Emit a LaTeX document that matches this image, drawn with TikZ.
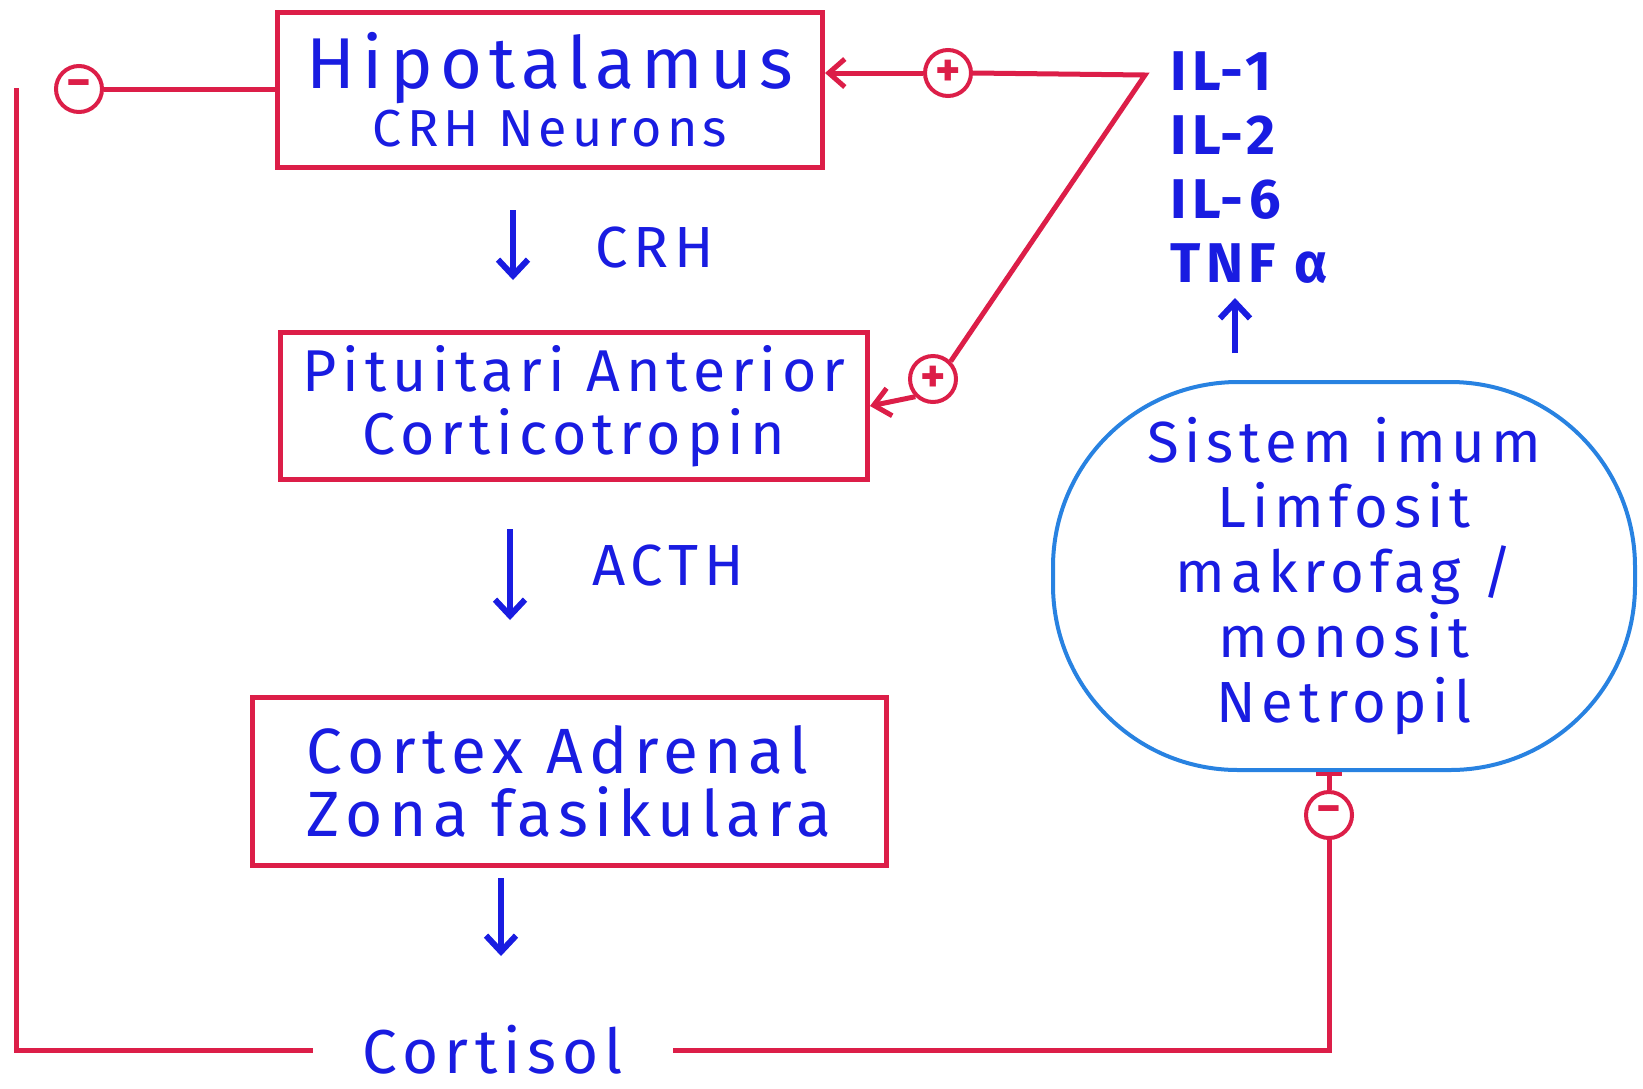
\documentclass[tikz,border=0pt]{standalone}
\usepackage{fontspec}
\setmainfont{Fira Sans}[LetterSpace=10]
\usetikzlibrary{arrows.meta}
\definecolor{inkred}{RGB}{220,30,72}
\definecolor{inkblue}{RGB}{25,28,225}
\definecolor{blobblue}{RGB}{40,130,225}
\newcommand{\handsize}[2]{\fontsize{#1}{#2}\selectfont}

\begin{document}
\begin{tikzpicture}[x=1pt, y=-1pt,
  organ/.style={draw=inkred, line width=5pt, text=inkblue, inner sep=0pt},
  redline/.style={draw=inkred, line width=5pt},
  redarrow/.style={redline, -{Straight Barb[length=16pt,width=28pt,line width=5pt]}},
  blueflow/.style={draw=inkblue, line width=6pt, -{Straight Barb[length=16pt,width=30pt,line width=6pt]}},
  sign/.style={circle, draw=inkred, line width=4pt, text=inkred, minimum size=46pt,
    inner sep=0pt, font=\bfseries\handsize{48}{48}},
  handtext/.style={text=inkblue, inner sep=0pt}]
  \useasboundingbox (0,0) rectangle (1643,1088);

  % Organ boxes
  \node[organ, minimum width=545pt, minimum height=155pt, align=center,
    font=\handsize{72}{58}] (hipo) at (550,90)
    {Hipotalamus\\{\handsize{52}{58}CRH Neurons}};
  \node[organ, minimum width=587pt, minimum height=147pt, align=center,
    font=\handsize{59}{63}] (pit) at (574,406)
    {Pituitari Anterior\\Corticotropin};
  \node[organ, minimum width=634pt, minimum height=168pt, align=left,
    font=\handsize{64}{63}] (ctx) at (569,781)
    {Cortex Adrenal\\Zona fasikulara};

  % Hormone flow
  \coordinate (crhA) at (513,210);
  \coordinate (crhB) at (513,280);
  \draw[blueflow] (crhA) -- (crhB);
  \node[handtext, font=\handsize{58}{58}] (crh) at (655,248) {CRH};
  \coordinate (acthA) at (510,529);
  \coordinate (acthB) at (510,620);
  \draw[blueflow] (acthA) -- (acthB);
  \node[handtext, font=\handsize{58}{58}] (acth) at (668,566) {ACTH};
  \coordinate (ctxA) at (501,878);
  \coordinate (ctxB) at (501,956);
  \draw[blueflow] (ctxA) -- (ctxB);
  \node[handtext, font=\handsize{62}{62}, outer xsep=50pt] (cortisol) at (493,1050) {Cortisol};

  % Negative feedback of cortisol on the hypothalamus
  \node[sign] (minus1) at (79,89) {−};
  \coordinate (lefttop) at (16,88);
  \draw[redline] (cortisol.west) -| (lefttop);
  \draw[redline] (minus1.east) -- (minus1.east -| hipo.west);

  % Immune system and cytokines
  \node[draw=blobblue, line width=4pt, rounded corners=185pt, minimum width=582pt,
    minimum height=388pt, align=center, text=inkblue, font=\handsize{58}{65}] (blob) at (1344,576)
    {Sistem imum\\Limfosit\\makrofag /\\monosit\\Netropil};
  \node[handtext, anchor=west, align=left, font=\bfseries\handsize{56}{64}] (cyto) at (1170,168)
    {IL-1\\IL-2\\IL-6\\TNF α};
  \coordinate (upA) at (1235,353);
  \coordinate (upB) at (1235,298);
  \draw[blueflow] (upA) -- (upB);

  % Cytokines stimulate hypothalamus and pituitary
  \node[sign] (plus1) at (948,73) {+};
  \node[sign] (plus2) at (933,379) {+};
  \coordinate (jn) at (1145,75);
  \draw[redline] (plus1.east) -- (jn) -- (plus2.north east);
  \draw[redarrow] (plus1.west) -- (plus1.west -| hipo.east);
  \draw[redarrow] (plus2.south west) -- (pit.east);

  % Cortisol inhibits the immune system
  \node[sign] (minus2) at (1329,815) {−};
  \draw[redline] (cortisol.east) -| (minus2.south);
  \draw[redline, -{Bar[width=26pt,line width=4pt]}] (minus2.north) -- (minus2.north |- blob.south);
\end{tikzpicture}
\end{document}
